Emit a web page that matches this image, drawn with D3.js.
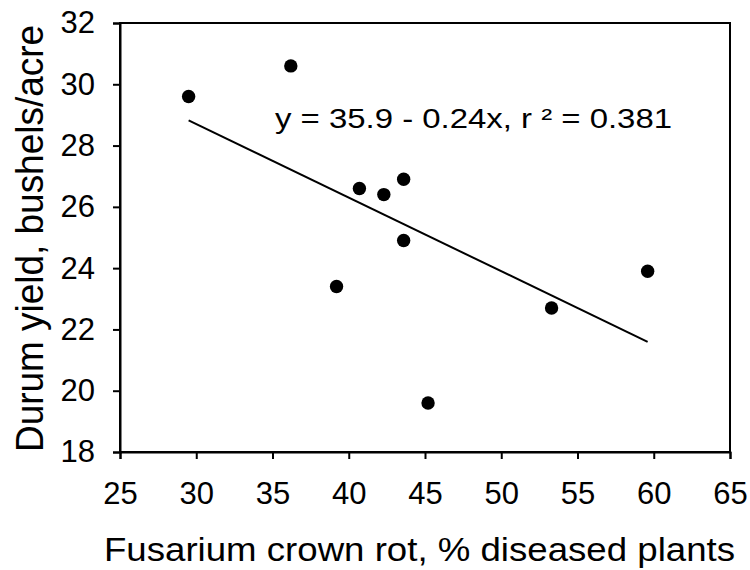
<!DOCTYPE html>
<html>
<head>
<meta charset="utf-8">
<script src="https://cdn.jsdelivr.net/npm/d3@7"></script>
<style>
  body { margin: 0; background: #fff; }
  text { font-family: "Liberation Sans", Arial, sans-serif; fill: #000; }
</style>
</head>
<body>
<script>
// diseased plants (%) and durum yield (bu/acre) per site
var crownRot = [29.5, 36.2, 40.7, 42.3, 43.6, 43.6, 39.2, 45.2, 53.3, 59.6];
var yieldBu  = [29.6, 30.6, 26.6, 26.4, 26.9, 24.9, 23.4, 19.6, 22.7, 23.9];
var xTicks = [25, 30, 35, 40, 45, 50, 55, 60, 65];
var yTicks = [18, 20, 22, 24, 26, 28, 30, 32];
var intercept = 35.9, slope = -0.24;
var eqLabel = "y = 35.9 - 0.24x, r \u00b2 = 0.381";

var W = 750, H = 570;
var margin = {top: 23, right: 20, bottom: 118, left: 120};
var width = 730 - margin.left, height = 452 - margin.top;

var svg = d3.select("body").append("svg")
    .attr("width", W).attr("height", H);
var g = svg.append("g")
    .attr("transform", "translate(" + margin.left + "," + margin.top + ")");

var x = d3.scaleLinear().domain([25, 65]).range([0, width]);
var y = d3.scaleLinear().domain([18, 32]).range([height, 0]);

// frame (top + right)
g.append("rect")
    .attr("width", width).attr("height", height)
    .attr("fill", "none").attr("stroke", "#000").attr("stroke-width", 2);

var xAxis = g.append("g")
    .attr("transform", "translate(0," + height + ")")
    .call(d3.axisBottom(x).tickValues(xTicks).tickSize(7).tickPadding(23));
var yAxis = g.append("g")
    .call(d3.axisLeft(y).tickValues(yTicks).tickSize(7).tickPadding(18));

[xAxis, yAxis].forEach(function (a) {
  a.selectAll("path, line").attr("stroke", "#000").attr("stroke-width", 2);
  a.selectAll("text").style("font-size", "31px")
    .style("font-family", "'Liberation Sans', Arial, sans-serif");
});

// regression line over the range of the data
var xr = d3.extent(crownRot);
g.append("line")
    .attr("x1", x(xr[0])).attr("y1", y(intercept + slope * xr[0]))
    .attr("x2", x(xr[1])).attr("y2", y(intercept + slope * xr[1]))
    .attr("stroke", "#000").attr("stroke-width", 2);

g.selectAll(".dot")
    .data(crownRot)
    .enter().append("circle")
    .attr("class", "dot")
    .attr("cx", function (d) { return x(d); })
    .attr("cy", function (d, i) { return y(yieldBu[i]); })
    .attr("r", 6.7)
    .attr("fill", "#000");

svg.append("text")
    .attr("x", 275).attr("y", 128)
    .style("font-size", "28px")
    .attr("textLength", 397).attr("lengthAdjust", "spacingAndGlyphs")
    .text(eqLabel);

svg.append("text")
    .attr("x", 104).attr("y", 561)
    .style("font-size", "34px")
    .attr("textLength", 631).attr("lengthAdjust", "spacingAndGlyphs")
    .text("Fusarium crown rot, % diseased plants");

svg.append("text")
    .attr("transform", "translate(43,452) rotate(-90)")
    .style("font-size", "38px")
    .attr("textLength", 427).attr("lengthAdjust", "spacingAndGlyphs")
    .text("Durum yield, bushels/acre");
</script>
</body>
</html>
